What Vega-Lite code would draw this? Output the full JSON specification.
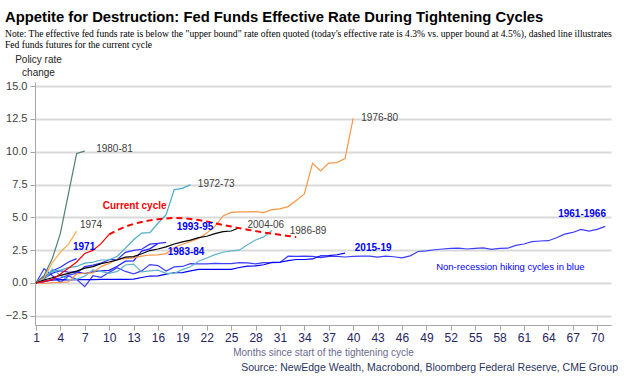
{
  "$schema": "https://vega.github.io/schema/vega-lite/v6.json",
  "width": 576,
  "height": 243,
  "autosize": {"type": "none"},
  "padding": {"left": 35, "top": 82, "right": 13, "bottom": 56},
  "background": "white",
  "config": {"view": {"stroke": null}, "font": "Liberation Sans", "axis": {"labelOverlap": "greedy", "labelSeparation": -40, "labelFlush": false}},
  "title": {
    "text": "Appetite for Destruction: Fed Funds Effective Rate During Tightening Cycles",
    "subtitle": ["Note: The effective fed funds rate is below the \"upper bound\" rate often quoted (today's effective rate is 4.3% vs. upper bound at 4.5%), dashed line illustrates", "Fed funds futures for the current cycle"],
    "anchor": "start",
    "frame": "group",
    "dx": -30,
    "offset": 4,
    "font": "Liberation Sans",
    "fontSize": 14.8,
    "fontWeight": "bold",
    "color": "#000000",
    "subtitleFont": "Liberation Sans Narrow",
    "subtitleFontSize": 9.6,
    "subtitleColor": "#000000",
    "subtitleLineHeight": 11,
    "subtitlePadding": 5
  },
  "datasets": {
    "lines": [
      {"series":"1961-66","month":1,"value":0},{"series":"1961-66","month":2,"value":1.09},{"series":"1961-66","month":3,"value":0.57},{"series":"1961-66","month":4,"value":0.04},{"series":"1961-66","month":5,"value":0.53},{"series":"1961-66","month":6,"value":0.28},{"series":"1961-66","month":7,"value":-0.28},{"series":"1961-66","month":8,"value":0.55},{"series":"1961-66","month":9,"value":0.43},{"series":"1961-66","month":10,"value":0.81},{"series":"1961-66","month":11,"value":1.16},{"series":"1961-66","month":12,"value":0.88},
      {"series":"1961-66","month":13,"value":0.70},{"series":"1961-66","month":14,"value":0.92},{"series":"1961-66","month":15,"value":1.40},{"series":"1961-66","month":16,"value":1.33},{"series":"1961-66","month":17,"value":0.91},{"series":"1961-66","month":18,"value":1.23},{"series":"1961-66","month":19,"value":1.26},{"series":"1961-66","month":20,"value":1.48},{"series":"1961-66","month":21,"value":1.45},{"series":"1961-66","month":22,"value":1.45},{"series":"1961-66","month":23,"value":1.49},{"series":"1961-66","month":24,"value":1.48},
      {"series":"1961-66","month":25,"value":1.47},{"series":"1961-66","month":26,"value":1.55},{"series":"1961-66","month":27,"value":1.53},{"series":"1961-66","month":28,"value":1.45},{"series":"1961-66","month":29,"value":1.55},{"series":"1961-66","month":30,"value":1.54},{"series":"1961-66","month":31,"value":1.57},{"series":"1961-66","month":32,"value":2.04},{"series":"1961-66","month":33,"value":2.03},{"series":"1961-66","month":34,"value":2.05},{"series":"1961-66","month":35,"value":2.03},{"series":"1961-66","month":36,"value":1.93},
      {"series":"1961-66","month":37,"value":2.03},{"series":"1961-66","month":38,"value":2.03},{"series":"1961-66","month":39,"value":1.98},{"series":"1961-66","month":40,"value":2.02},{"series":"1961-66","month":41,"value":2.05},{"series":"1961-66","month":42,"value":2.05},{"series":"1961-66","month":43,"value":1.97},{"series":"1961-66","month":44,"value":2.05},{"series":"1961-66","month":45,"value":2.00},{"series":"1961-66","month":46,"value":1.91},{"series":"1961-66","month":47,"value":2.07},{"series":"1961-66","month":48,"value":2.40},
      {"series":"1961-66","month":49,"value":2.45},{"series":"1961-66","month":50,"value":2.53},{"series":"1961-66","month":51,"value":2.59},{"series":"1961-66","month":52,"value":2.64},{"series":"1961-66","month":53,"value":2.65},{"series":"1961-66","month":54,"value":2.59},{"series":"1961-66","month":55,"value":2.64},{"series":"1961-66","month":56,"value":2.67},{"series":"1961-66","month":57,"value":2.56},{"series":"1961-66","month":58,"value":2.63},{"series":"1961-66","month":59,"value":2.65},{"series":"1961-66","month":60,"value":2.87},
      {"series":"1961-66","month":61,"value":2.97},{"series":"1961-66","month":62,"value":3.15},{"series":"1961-66","month":63,"value":3.20},{"series":"1961-66","month":64,"value":3.22},{"series":"1961-66","month":65,"value":3.45},{"series":"1961-66","month":66,"value":3.72},{"series":"1961-66","month":67,"value":3.85},{"series":"1961-66","month":68,"value":4.08},{"series":"1961-66","month":69,"value":3.95},{"series":"1961-66","month":70,"value":4.08},{"series":"1961-66","month":71,"value":4.31},
      {"series":"2015-19","month":1,"value":0},{"series":"2015-19","month":2,"value":0.12},{"series":"2015-19","month":3,"value":0.22},{"series":"2015-19","month":4,"value":0.26},{"series":"2015-19","month":5,"value":0.24},{"series":"2015-19","month":6,"value":0.25},{"series":"2015-19","month":7,"value":0.25},{"series":"2015-19","month":8,"value":0.26},{"series":"2015-19","month":9,"value":0.27},{"series":"2015-19","month":10,"value":0.28},
      {"series":"2015-19","month":11,"value":0.28},{"series":"2015-19","month":12,"value":0.28},{"series":"2015-19","month":13,"value":0.29},{"series":"2015-19","month":14,"value":0.42},{"series":"2015-19","month":15,"value":0.53},{"series":"2015-19","month":16,"value":0.54},{"series":"2015-19","month":17,"value":0.67},{"series":"2015-19","month":18,"value":0.78},{"series":"2015-19","month":19,"value":0.79},{"series":"2015-19","month":20,"value":0.92},
      {"series":"2015-19","month":21,"value":1.03},{"series":"2015-19","month":22,"value":1.04},{"series":"2015-19","month":23,"value":1.03},{"series":"2015-19","month":24,"value":1.03},{"series":"2015-19","month":25,"value":1.04},{"series":"2015-19","month":26,"value":1.18},{"series":"2015-19","month":27,"value":1.29},{"series":"2015-19","month":28,"value":1.30},{"series":"2015-19","month":29,"value":1.39},{"series":"2015-19","month":30,"value":1.57},
      {"series":"2015-19","month":31,"value":1.58},{"series":"2015-19","month":32,"value":1.70},{"series":"2015-19","month":33,"value":1.79},{"series":"2015-19","month":34,"value":1.79},{"series":"2015-19","month":35,"value":1.83},{"series":"2015-19","month":36,"value":2.07},{"series":"2015-19","month":37,"value":2.08},{"series":"2015-19","month":38,"value":2.15},{"series":"2015-19","month":39,"value":2.28},
      {"series":"1971","month":1,"value":0},{"series":"1971","month":2,"value":0.44},{"series":"1971","month":3,"value":0.92},{"series":"1971","month":4,"value":1.20},{"series":"1971","month":5,"value":1.60},{"series":"1971","month":6,"value":1.86},
      {"series":"1983-84","month":1,"value":0},{"series":"1983-84","month":2,"value":0.35},{"series":"1983-84","month":3,"value":0.74},{"series":"1983-84","month":4,"value":0.93},{"series":"1983-84","month":5,"value":0.82},{"series":"1983-84","month":6,"value":0.85},{"series":"1983-84","month":7,"value":0.71},{"series":"1983-84","month":8,"value":0.84},{"series":"1983-84","month":9,"value":0.93},{"series":"1983-84","month":10,"value":0.96},{"series":"1983-84","month":11,"value":1.28},{"series":"1983-84","month":12,"value":1.66},{"series":"1983-84","month":13,"value":1.69},{"series":"1983-84","month":14,"value":2.43},{"series":"1983-84","month":15,"value":2.60},{"series":"1983-84","month":16,"value":3.01},
      {"series":"1993-95","month":1,"value":0},{"series":"1993-95","month":2,"value":0.09},{"series":"1993-95","month":3,"value":0.29},{"series":"1993-95","month":4,"value":0.38},{"series":"1993-95","month":5,"value":0.60},{"series":"1993-95","month":6,"value":0.74},{"series":"1993-95","month":7,"value":1.25},{"series":"1993-95","month":8,"value":1.36},{"series":"1993-95","month":9,"value":1.51},{"series":"1993-95","month":10,"value":1.77},{"series":"1993-95","month":11,"value":1.80},{"series":"1993-95","month":12,"value":2.33},{"series":"1993-95","month":13,"value":2.49},{"series":"1993-95","month":14,"value":2.57},{"series":"1993-95","month":15,"value":2.96},{"series":"1993-95","month":16,"value":3.02},{"series":"1993-95","month":17,"value":3.09},
      {"series":"1986-89","month":1,"value":0},{"series":"1986-89","month":2,"value":0.19},{"series":"1986-89","month":3,"value":1.06},{"series":"1986-89","month":4,"value":0.58},{"series":"1986-89","month":5,"value":0.25},{"series":"1986-89","month":6,"value":0.28},{"series":"1986-89","month":7,"value":0.52},{"series":"1986-89","month":8,"value":1.00},{"series":"1986-89","month":9,"value":0.88},{"series":"1986-89","month":10,"value":0.73},{"series":"1986-89","month":11,"value":0.88},{"series":"1986-89","month":12,"value":1.37},{"series":"1986-89","month":13,"value":1.44},{"series":"1986-89","month":14,"value":0.84},{"series":"1986-89","month":15,"value":0.92},
      {"series":"1986-89","month":16,"value":0.98},{"series":"1986-89","month":17,"value":0.73},{"series":"1986-89","month":18,"value":0.73},{"series":"1986-89","month":19,"value":1.02},{"series":"1986-89","month":20,"value":1.24},{"series":"1986-89","month":21,"value":1.66},{"series":"1986-89","month":22,"value":1.90},{"series":"1986-89","month":23,"value":2.16},{"series":"1986-89","month":24,"value":2.34},{"series":"1986-89","month":25,"value":2.45},{"series":"1986-89","month":26,"value":2.50},{"series":"1986-89","month":27,"value":2.91},{"series":"1986-89","month":28,"value":3.27},{"series":"1986-89","month":29,"value":3.51},{"series":"1986-89","month":30,"value":4.00},
      {"series":"1972-73","month":1,"value":0},{"series":"1972-73","month":2,"value":0.54},{"series":"1972-73","month":3,"value":0.88},{"series":"1972-73","month":4,"value":0.98},{"series":"1972-73","month":5,"value":1.17},{"series":"1972-73","month":6,"value":1.26},{"series":"1972-73","month":7,"value":1.51},{"series":"1972-73","month":8,"value":1.58},{"series":"1972-73","month":9,"value":1.75},{"series":"1972-73","month":10,"value":1.77},{"series":"1972-73","month":11,"value":2.04},{"series":"1972-73","month":12,"value":2.65},{"series":"1972-73","month":13,"value":3.29},{"series":"1972-73","month":14,"value":3.80},{"series":"1972-73","month":15,"value":3.83},{"series":"1972-73","month":16,"value":4.55},{"series":"1972-73","month":17,"value":5.20},{"series":"1972-73","month":18,"value":7.11},{"series":"1972-73","month":19,"value":7.21},{"series":"1972-73","month":20,"value":7.49},
      {"series":"1976-80","month":1,"value":0},{"series":"1976-80","month":2,"value":-0.04},{"series":"1976-80","month":3,"value":0.03},{"series":"1976-80","month":4,"value":0.04},{"series":"1976-80","month":5,"value":0.08},{"series":"1976-80","month":6,"value":0.70},{"series":"1976-80","month":7,"value":0.74},{"series":"1976-80","month":8,"value":0.77},{"series":"1976-80","month":9,"value":1.25},{"series":"1976-80","month":10,"value":1.49},
      {"series":"1976-80","month":11,"value":1.82},{"series":"1976-80","month":12,"value":1.86},{"series":"1976-80","month":13,"value":1.91},{"series":"1976-80","month":14,"value":2.05},{"series":"1976-80","month":15,"value":2.13},{"series":"1976-80","month":16,"value":2.14},{"series":"1976-80","month":17,"value":2.24},{"series":"1976-80","month":18,"value":2.71},{"series":"1976-80","month":19,"value":2.95},{"series":"1976-80","month":20,"value":3.16},
      {"series":"1976-80","month":21,"value":3.39},{"series":"1976-80","month":22,"value":3.80},{"series":"1976-80","month":23,"value":4.31},{"series":"1976-80","month":24,"value":5.11},{"series":"1976-80","month":25,"value":5.38},{"series":"1976-80","month":26,"value":5.42},{"series":"1976-80","month":27,"value":5.41},{"series":"1976-80","month":28,"value":5.44},{"series":"1976-80","month":29,"value":5.36},{"series":"1976-80","month":30,"value":5.59},
      {"series":"1976-80","month":31,"value":5.64},{"series":"1976-80","month":32,"value":5.82},{"series":"1976-80","month":33,"value":6.29},{"series":"1976-80","month":34,"value":6.78},{"series":"1976-80","month":35,"value":9.12},{"series":"1976-80","month":36,"value":8.53},{"series":"1976-80","month":37,"value":9.13},{"series":"1976-80","month":38,"value":9.17},{"series":"1976-80","month":39,"value":9.48},{"series":"1976-80","month":40,"value":12.54},
      {"series":"1974","month":1,"value":0},{"series":"1974","month":2,"value":0.38},{"series":"1974","month":3,"value":1.54},{"series":"1974","month":4,"value":2.34},{"series":"1974","month":5,"value":2.96},{"series":"1974","month":6,"value":3.95},
      {"series":"1980-81","month":1,"value":0},{"series":"1980-81","month":2,"value":0.58},{"series":"1980-81","month":3,"value":1.84},{"series":"1980-81","month":4,"value":3.78},{"series":"1980-81","month":5,"value":6.82},{"series":"1980-81","month":6,"value":9.87},{"series":"1980-81","month":7,"value":10.05},
      {"series":"2004-06","month":1,"value":0},{"series":"2004-06","month":2,"value":0.23},{"series":"2004-06","month":3,"value":0.40},{"series":"2004-06","month":4,"value":0.58},{"series":"2004-06","month":5,"value":0.73},{"series":"2004-06","month":6,"value":0.90},{"series":"2004-06","month":7,"value":1.13},{"series":"2004-06","month":8,"value":1.25},{"series":"2004-06","month":9,"value":1.47},{"series":"2004-06","month":10,"value":1.60},{"series":"2004-06","month":11,"value":1.76},{"series":"2004-06","month":12,"value":1.97},{"series":"2004-06","month":13,"value":2.01},
      {"series":"2004-06","month":14,"value":2.23},{"series":"2004-06","month":15,"value":2.47},{"series":"2004-06","month":16,"value":2.59},{"series":"2004-06","month":17,"value":2.75},{"series":"2004-06","month":18,"value":2.97},{"series":"2004-06","month":19,"value":3.13},{"series":"2004-06","month":20,"value":3.26},{"series":"2004-06","month":21,"value":3.46},{"series":"2004-06","month":22,"value":3.56},{"series":"2004-06","month":23,"value":3.76},{"series":"2004-06","month":24,"value":3.91},{"series":"2004-06","month":25,"value":3.96},{"series":"2004-06","month":26,"value":4.21},
      {"series":"Current","month":1,"value":0},{"series":"Current","month":2,"value":0.12},{"series":"Current","month":3,"value":0.25},{"series":"Current","month":4,"value":0.69},{"series":"Current","month":5,"value":1.13},{"series":"Current","month":6,"value":1.60},{"series":"Current","month":7,"value":2.25},{"series":"Current","month":8,"value":2.48},{"series":"Current","month":9,"value":3.00},{"series":"Current","month":10,"value":3.70}
    ],
    "futures": [
      {"series":"Futures","month":10,"value":3.70},{"series":"Futures","month":11,"value":4.02},{"series":"Futures","month":12,"value":4.30},{"series":"Futures","month":13,"value":4.50},{"series":"Futures","month":14,"value":4.65},{"series":"Futures","month":15,"value":4.77},{"series":"Futures","month":16,"value":4.86},{"series":"Futures","month":17,"value":4.92},{"series":"Futures","month":18,"value":4.95},{"series":"Futures","month":19,"value":4.93},{"series":"Futures","month":20,"value":4.88},{"series":"Futures","month":21,"value":4.80},
      {"series":"Futures","month":22,"value":4.68},{"series":"Futures","month":23,"value":4.55},{"series":"Futures","month":24,"value":4.42},{"series":"Futures","month":25,"value":4.30},{"series":"Futures","month":26,"value":4.18},{"series":"Futures","month":27,"value":4.06},{"series":"Futures","month":28,"value":3.95},{"series":"Futures","month":29,"value":3.85},{"series":"Futures","month":30,"value":3.76},{"series":"Futures","month":31,"value":3.67},{"series":"Futures","month":32,"value":3.58},{"series":"Futures","month":33,"value":3.50}
    ],
    "labels": [
      {"label":"1980-81","month":8.4,"value":10.2,"kind":"gray"},
      {"label":"1972-73","month":20.9,"value":7.54,"kind":"gray"},
      {"label":"1976-80","month":41.0,"value":12.57,"kind":"gray"},
      {"label":"1974","month":6.4,"value":4.42,"kind":"gray"},
      {"label":"2004-06","month":27.0,"value":4.42,"kind":"gray"},
      {"label":"1986-89","month":32.2,"value":3.96,"kind":"gray"},
      {"label":"1971","month":5.55,"value":2.74,"kind":"blue"},
      {"label":"1993-95","month":18.3,"value":4.27,"kind":"blue"},
      {"label":"1983-84","month":17.2,"value":2.36,"kind":"blue"},
      {"label":"2015-19","month":40.2,"value":2.67,"kind":"blue"},
      {"label":"1961-1966","month":65.2,"value":5.26,"kind":"blue"},
      {"label":"Current cycle","month":9.2,"value":5.86,"kind":"red"},
      {"label":"Non-recession hiking cycles in blue","month":50.2,"value":1.22,"kind":"note"}
    ],
    "source": [
      {"label":"Source: NewEdge Wealth, Macrobond, Bloomberg Federal Reserve, CME Group","month":71.7,"value":-6.5}
    ]
  },
  "encoding": {
    "x": {
      "field": "month", "type": "quantitative",
      "scale": {"domain": [0.88, 71.7], "nice": false, "zero": false},
      "axis": {
        "values": [1,4,7,10,13,16,19,22,25,28,31,34,37,40,43,46,49,52,55,58,61,64,67,70],
        "labelOverlap": "greedy", "labelSeparation": -40,
        "grid": false, "domainColor": "#a6a6a6", "tickColor": "#a6a6a6", "tickSize": 5,
        "labelFontSize": 12, "labelColor": "#262660", "labelPadding": 2, "labelFlush": false,
        "title": "Months since start of the tightening cycle",
        "titleFontSize": 10, "titleFontWeight": "normal", "titleColor": "#6b6b8f", "titlePadding": 4
      }
    },
    "y": {
      "field": "value", "type": "quantitative",
      "scale": {"domain": [-3.2, 15.31], "nice": false, "zero": false},
      "axis": {
        "values": [-2.5,0,2.5,5,7.5,10,12.5,15], "format": ".1f",
        "labelOverlap": "greedy", "labelSeparation": -40,
        "grid": true, "gridColor": "#d9d9d9", "gridWidth": 2,
        "domainColor": "#a6a6a6", "tickColor": "#a6a6a6", "tickSize": 5,
        "labelFontSize": 11, "labelColor": "#404040", "labelPadding": 3,
        "title": ["Policy rate", "change"], "titleAngle": 0, "titleAlign": "center",
        "titleBaseline": "alphabetic", "titleX": 3, "titleY": -20,
        "titleFontSize": 10, "titleFontWeight": "normal", "titleColor": "#262626", "titleLineHeight": 13
      }
    }
  },
  "layer": [
    {
      "data": {"name": "lines"},
      "mark": {"type": "line", "strokeWidth": 1.2, "clip": true},
      "encoding": {
        "color": {
          "field": "series", "type": "nominal", "legend": null,
          "scale": {
            "domain": ["1961-66","2015-19","1971","1983-84","1993-95","1972-73","1986-89","1976-80","1974","1980-81","2004-06","Current"],
            "range": ["#3d3dff","#0000ff","#2a2aff","#1a1aff","#3030ff","#4bacc6","#5fb4c9","#f79646","#f9ae4e","#4f7f74","#000000","#ff0000"]
          }
        }
      }
    },
    {
      "data": {"name": "futures"},
      "mark": {"type": "line", "strokeWidth": 2, "strokeDash": [6, 4], "color": "#ff0000"},
      "encoding": {}
    },
    {
      "data": {"name": "labels"},
      "transform": [{"filter": "datum.kind === 'gray'"}],
      "mark": {"type": "text", "align": "left", "baseline": "middle", "fontSize": 10, "color": "#404040"},
      "encoding": {"text": {"field": "label"}}
    },
    {
      "data": {"name": "labels"},
      "transform": [{"filter": "datum.kind === 'blue'"}],
      "mark": {"type": "text", "align": "left", "baseline": "middle", "fontSize": 10, "fontWeight": "bold", "color": "#0000ff"},
      "encoding": {"text": {"field": "label"}}
    },
    {
      "data": {"name": "labels"},
      "transform": [{"filter": "datum.kind === 'red'"}],
      "mark": {"type": "text", "align": "left", "baseline": "middle", "fontSize": 10, "fontWeight": "bold", "color": "#ff0000"},
      "encoding": {"text": {"field": "label"}}
    },
    {
      "data": {"name": "labels"},
      "transform": [{"filter": "datum.kind === 'note'"}],
      "mark": {"type": "text", "align": "left", "baseline": "middle", "fontSize": 9.5, "color": "#0000ff"},
      "encoding": {"text": {"field": "label"}}
    },
    {
      "data": {"name": "source"},
      "mark": {"type": "text", "align": "right", "baseline": "middle", "fontSize": 10.5, "color": "#2a3560", "dx": 7},
      "encoding": {"text": {"field": "label"}}
    }
  ]
}
